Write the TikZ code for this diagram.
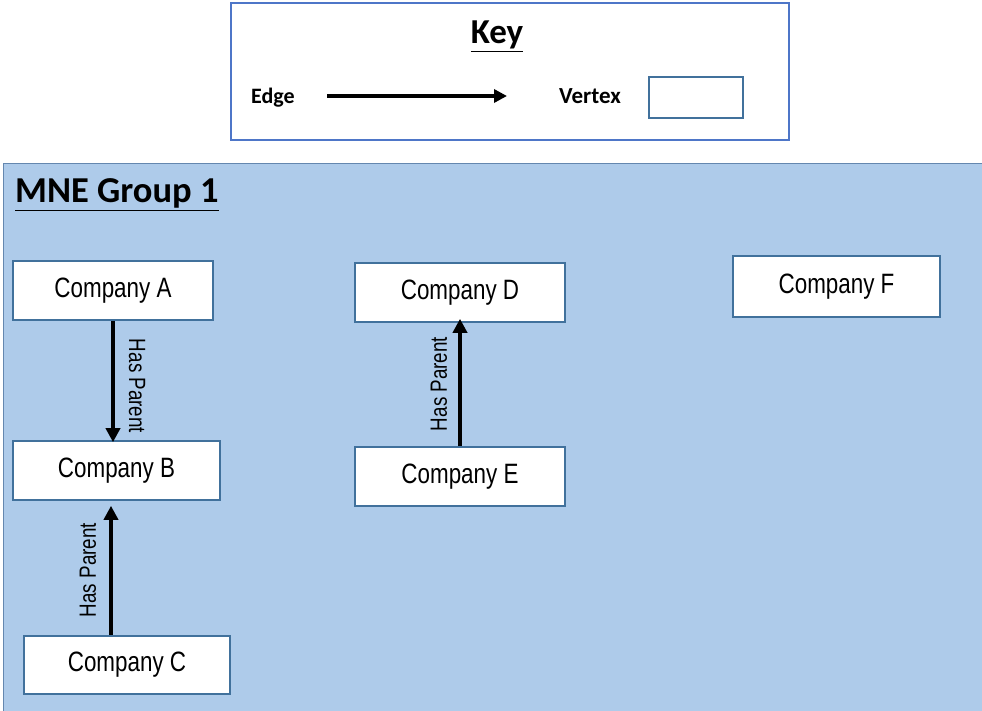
\documentclass[tikz,border=0pt]{standalone}
\usepackage{fontspec}
\setmainfont{Carlito}
\newfontfamily\narrowfont[FakeStretch=0.8]{Liberation Sans}
\usetikzlibrary{arrows.meta}
\definecolor{groupblue}{RGB}{174,203,234}
\definecolor{groupline}{RGB}{100,135,175}
\definecolor{keyline}{RGB}{78,118,200}
\definecolor{boxline}{RGB}{65,113,156}
\tikzset{
  company/.style={draw=boxline, line width=1.6pt, fill=white, inner sep=0pt,
    minimum height=59pt, font=\narrowfont\fontsize{28}{32}\selectfont},
  hasparent/.style={line width=3.5pt, -{Triangle[length=14pt,width=14pt]}},
  edgelabel/.style={inner sep=0pt, font=\narrowfont\fontsize{23.5}{26}\selectfont},
  keytext/.style={inner sep=0pt, anchor=base west, font=\bfseries\fontsize{22}{24}\selectfont}
}
\begin{document}
\begin{tikzpicture}[x=1pt,y=-1pt]
    \useasboundingbox (0,0) rectangle (982,711);
    % key
    \draw[keyline, line width=2pt] (231,3) rectangle (789,140);
    \node[inner sep=0pt, anchor=base, font=\bfseries\fontsize{35}{38}\selectfont] (keytitle) at (497,44) {\underline{Key}};
    \node[keytext] (edgetext) at (251,104) {Edge};
    \coordinate (edgeL) at (327,96);
    \coordinate (edgeR) at (507,96);
    \draw[line width=3.5pt, -{Triangle[length=13pt,width=13pt]}] (edgeL) -- (edgeR);
    \node[keytext, font=\bfseries\fontsize{23}{24}\selectfont] (vertextext) at (559,104) {Vertex};
    \node[draw=boxline, line width=1.6pt, minimum width=94pt, minimum height=41pt, inner sep=0pt] (vertex) at (696,97.5) {};
    % group
    \draw[fill=groupblue, draw=groupline, line width=1.5pt] (3.5,163.5) rectangle (984,714);
    \node[inner sep=0pt, anchor=base west, font=\bfseries\fontsize{36.5}{40}\selectfont] (grouptitle) at (15,203) {\underline{MNE Group 1}};
    % companies
    \node[company, minimum width=200pt] (compA) at (113,290.5) {Company A};
    \node[company, minimum width=207pt] (compB) at (116.5,470.5) {Company B};
    \node[company, minimum width=206pt, minimum height=58pt] (compC) at (127,665) {Company C};
    \node[company, minimum width=210pt] (compD) at (460,292.5) {Company D};
    \node[company, minimum width=210pt] (compE) at (460,476.5) {Company E};
    \node[company, minimum width=207pt, minimum height=61pt] (compF) at (836.5,286.5) {Company F};
    % has parent edges
    \draw[hasparent] (compA.south) -- ([yshift=-2pt]compA.south |- compB.north);
    \draw[hasparent] ([xshift=-16pt]compC.north) -- ([xshift=-16pt,yshift=-5pt]compC.north |- compB.south);
    \draw[hasparent] (compE.north) -- ([yshift=4pt]compE.north |- compD.south);
    \node[edgelabel, rotate=-90] (labAB) at (137,386) {Has Parent};
    \node[edgelabel, rotate=90] (labCB) at (88,570) {Has Parent};
    \node[edgelabel, rotate=90] (labED) at (439,384) {Has Parent};
\end{tikzpicture}
\end{document}
